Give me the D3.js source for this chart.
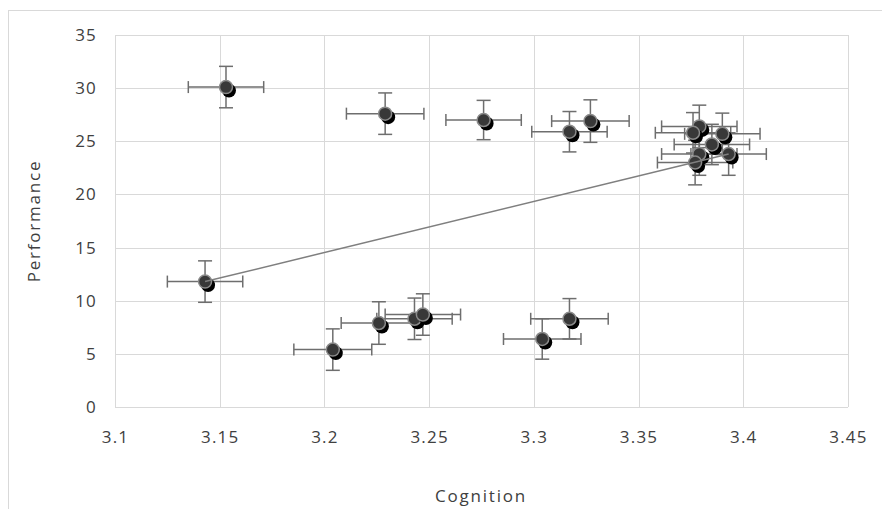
<!DOCTYPE html>
<html>
<head>
<meta charset="utf-8">
<script src="https://cdn.jsdelivr.net/npm/d3@7/dist/d3.min.js"></script>
<style>
  body { margin: 0; background: #fff; }
  text { font-family: "Open Sans", sans-serif; fill: #404040; }
</style>
</head>
<body>
<script>
// dimensions
const width = 882;
const height = 509;

// data
const cognition   = [3.153, 3.229, 3.276, 3.317, 3.327, 3.379, 3.376, 3.390, 3.385, 3.379, 3.393, 3.377, 3.143, 3.204, 3.226, 3.243, 3.247, 3.304, 3.317];
const performance = [30.1, 27.6, 27.0, 25.9, 26.9, 26.4, 25.8, 25.7, 24.7, 23.8, 23.8, 23.0, 11.8, 5.4, 7.9, 8.3, 8.7, 6.4, 8.3];
const cognitionErr   = [0.018, 0.0185, 0.018, 0.018, 0.0185, 0.018, 0.018, 0.018, 0.018, 0.018, 0.018, 0.018, 0.018, 0.0186, 0.018, 0.018, 0.018, 0.0185, 0.0185];
const performanceErr = [1.95, 1.95, 1.85, 1.9, 2.0, 2.0, 1.9, 1.95, 1.9, 2.0, 2.0, 2.1, 1.95, 1.95, 2.0, 1.95, 1.95, 1.9, 1.9];

// the connecting line
const lineCognition   = [3.143, 3.393];
const linePerformance = [11.8, 23.8];

const xTicks = [3.1, 3.15, 3.2, 3.25, 3.3, 3.35, 3.4, 3.45];
const yTicks = [0, 5, 10, 15, 20, 25, 30, 35];

const margin = { top: 35, right: 34, bottom: 102, left: 115 };

let svg = d3.select("body")
    .append("svg")
    .attr("width", width)
    .attr("height", height);

// outer chart frame
svg.append("rect")
    .attr("x", 8.5)
    .attr("y", 10.5)
    .attr("width", 880)
    .attr("height", 520)
    .attr("fill", "none")
    .attr("stroke", "#d9d9d9");

let x = d3.scaleLinear()
    .domain([3.1, 3.45])
    .range([margin.left, width - margin.right]);
let y = d3.scaleLinear()
    .domain([0, 35])
    .range([height - margin.bottom, margin.top]);

// gridlines
svg.append("g")
    .selectAll("line")
    .data(yTicks)
    .enter()
    .append("line")
    .attr("x1", x(3.1))
    .attr("x2", x(3.45))
    .attr("y1", d => Math.round(y(d)) + 0.5)
    .attr("y2", d => Math.round(y(d)) + 0.5)
    .attr("stroke", "#d9d9d9");

svg.append("g")
    .selectAll("line")
    .data(xTicks)
    .enter()
    .append("line")
    .attr("x1", d => Math.round(x(d)) + 0.5)
    .attr("x2", d => Math.round(x(d)) + 0.5)
    .attr("y1", y(35))
    .attr("y2", y(0))
    .attr("stroke", "#d9d9d9");

// axes (labels only, lines drawn as grid)
let xAxis = svg.append("g")
    .attr("transform", "translate(0," + (y(0) + 10) + ")")
    .call(d3.axisBottom(x).tickValues(xTicks).tickSize(0).tickPadding(14).tickFormat(d => String(+d.toFixed(2))));
let yAxis = svg.append("g")
    .attr("transform", "translate(" + (x(3.1) - 18) + ",0)")
    .call(d3.axisLeft(y).tickValues(yTicks).tickSize(0).tickPadding(0));

[xAxis, yAxis].forEach(function(a) {
    a.select(".domain").remove();
    a.selectAll("text")
        .style("font-family", "'Open Sans', sans-serif")
        .style("font-size", "17px")
        .style("letter-spacing", "1.2px")
        .attr("fill", "#404040");
});

// axis titles
svg.append("text")
    .attr("x", 481)
    .attr("y", 502)
    .attr("text-anchor", "middle")
    .style("font-size", "17px")
    .style("letter-spacing", "1.8px")
    .text("Cognition");

svg.append("text")
    .attr("transform", "translate(40,221) rotate(-90)")
    .attr("text-anchor", "middle")
    .style("font-size", "17px")
    .style("letter-spacing", "1.8px")
    .text("Performance");

const points = cognition.map(function(c, i) {
    return { x: c, y: performance[i], ex: cognitionErr[i], ey: performanceErr[i] };
});

const errColor = "#6e6e6e";
const cap = 6;

// error bars
let err = svg.append("g")
    .attr("stroke", errColor)
    .attr("stroke-width", 1.5);

points.forEach(function(d) {
    let cx = x(d.x), cy = y(d.y);
    let x0 = x(d.x - d.ex), x1 = x(d.x + d.ex);
    let y0 = y(d.y - d.ey), y1 = y(d.y + d.ey);
    err.append("line").attr("x1", x0).attr("x2", x1).attr("y1", cy).attr("y2", cy);
    err.append("line").attr("x1", x0).attr("x2", x0).attr("y1", cy - cap).attr("y2", cy + cap);
    err.append("line").attr("x1", x1).attr("x2", x1).attr("y1", cy - cap).attr("y2", cy + cap);
    err.append("line").attr("x1", cx).attr("x2", cx).attr("y1", y0).attr("y2", y1);
    err.append("line").attr("x1", cx - cap - 1).attr("x2", cx + cap + 1).attr("y1", y0).attr("y2", y0);
    err.append("line").attr("x1", cx - cap - 1).attr("x2", cx + cap + 1).attr("y1", y1).attr("y2", y1);
});

// markers with a dark drop shadow
let node = svg.selectAll(".node")
    .data(points)
    .enter()
    .append("g")
    .attr("class", "node")
    .attr("transform", d => "translate(" + x(d.x) + "," + y(d.y) + ")");

node.append("circle")
    .attr("cx", 3)
    .attr("cy", 3.5)
    .attr("r", 7)
    .attr("fill", "#000");

node.append("circle")
    .attr("r", 6.5)
    .attr("fill", "#383838")
    .attr("stroke", "#8a8a8a")
    .attr("stroke-width", 1.5);

// straight connecting line
svg.append("path")
    .datum(lineCognition.map((c, i) => [c, linePerformance[i]]))
    .attr("d", d3.line().x(d => x(d[0])).y(d => y(d[1])))
    .attr("fill", "none")
    .attr("stroke", "#7f7f7f")
    .attr("stroke-width", 1.5);
</script>
</body>
</html>
